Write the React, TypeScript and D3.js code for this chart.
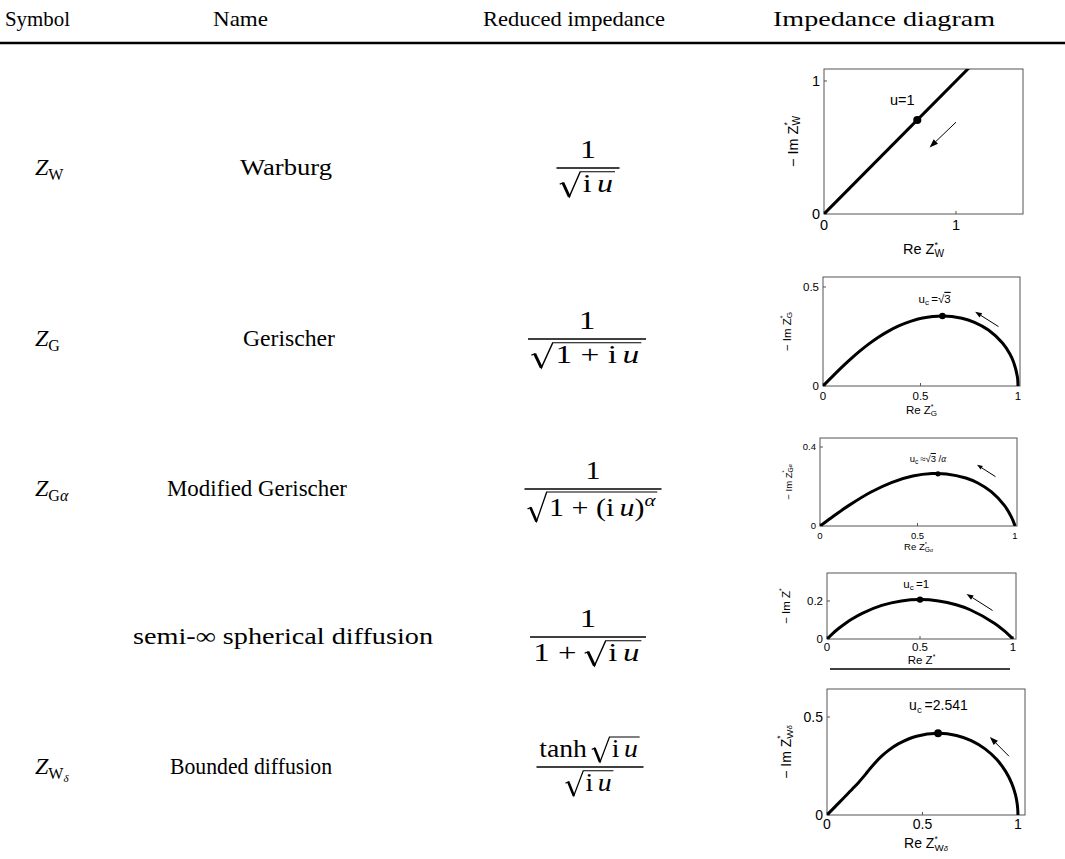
import React, { useEffect, useRef } from "react";
import * as d3 from "d3";

type Pt = [number, number];

// table text
const headers = ["Symbol", "Name", "Reduced impedance", "Impedance diagram"];
const names = ["Warburg", "Gerischer", "Modified Gerischer", "semi-\u221E spherical diffusion", "Bounded diffusion"];
const symbolSubs = ["W", "G", "G", "", "W"];
const symbolGreek = ["", "", "\u03B1", "", "\u03B4"];

// impedance curves: [Re Z*, -Im Z*]
const warburgCurve: Pt[] = [[0, 0], [1.1, 1.1]];
const gerischerCurve: Pt[] = [
  [1, 0], [0.9991, 0.025], [0.9963, 0.0497], [0.9776, 0.1204], [0.9578, 0.1628], [0.9205, 0.2172],
  [0.8485, 0.2828], [0.7769, 0.3218], [0.7124, 0.3424], [0.6124, 0.3536], [0.5046, 0.3417],
  [0.4562, 0.3287], [0.3882, 0.3031], [0.3247, 0.271], [0.2841, 0.2464], [0.2338, 0.2117],
  [0.1884, 0.1762], [0.1441, 0.1385], [0.1132, 0.1104], [0.0578, 0.0576], [0, 0],
];
const modGerischerCurve: Pt[] = [
  [1, 0], [0.9968, 0.0094], [0.9915, 0.0232], [0.9818, 0.0452], [0.9465, 0.1033], [0.8779, 0.1737],
  [0.8094, 0.2176], [0.7477, 0.2429], [0.648, 0.2636], [0.5744, 0.2655], [0.4759, 0.2529],
  [0.3694, 0.2212], [0.2596, 0.1709], [0.1486, 0.1044], [0.081, 0.0583], [0.0468, 0.0338], [0, 0],
];
const sphericalCurve: Pt[] = [
  [1, 0], [0.9502, 0.0452], [0.9016, 0.082], [0.7692, 0.1538], [0.6941, 0.1799], [0.6, 0.2],
  [0.5, 0.2071], [0.4, 0.2], [0.2941, 0.1765], [0.1892, 0.1351], [0.1385, 0.1077],
  [0.0984, 0.082], [0.0621, 0.0552], [0.0333, 0.0312], [0, 0],
];
const boundedCurve: Pt[] = [
  [1, 0], [0.9991, 0.0267], [0.9957, 0.0598], [0.9866, 0.1049], [0.968, 0.1602], [0.9363, 0.2215],
  [0.8893, 0.2828], [0.8278, 0.3375], [0.7553, 0.3797], [0.6778, 0.4061], [0.5816, 0.4173],
  [0.4691, 0.402], [0.373, 0.3627], [0.3221, 0.3297], [0.2846, 0.2987], [0.2489, 0.2631],
  [0.2235, 0.2342], [0.2046, 0.2114], [0.1894, 0.1932], [0.1656, 0.1661], [0.1428, 0.1425],
  [0.0833, 0.0833], [0.025, 0.025], [0, 0],
];
const curves = [warburgCurve, gerischerCurve, modGerischerCurve, sphericalCurve, boundedCurve];

const peaks: Pt[] = [[0.707, 0.707], [0.6124, 0.3536], [0.605, 0.264], [0.5, 0.2071], [0.5816, 0.4173]];
const arrowStarts: Pt[] = [[1.0, 0.69], [0.9, 0.3], [0.9, 0.25], [0.89, 0.15], [0.953, 0.3]];
const arrowEnds: Pt[] = [[0.8, 0.5], [0.78, 0.375], [0.805, 0.31], [0.75, 0.237], [0.853, 0.398]];
const labelAt: Pt[] = [[0.5, 0.82], [0.49, 0.42], [0.46, 0.324], [0.41, 0.27], [0.43, 0.535]];
const labelSubs = ["", "c", "c", "c", "c"];
const labelRel = ["=", "\u2009=", "\u2009\u2248", "\u2009=", "\u2009="];
const labelVals = ["1", "\u221A3", "\u221A3 /\u03B1", "1", "2.541"];

const xTickSets = [[0, 1], [0, 0.5, 1], [0, 0.5, 1], [0, 0.5, 1], [0, 0.5, 1]];
const yTickSets = [[0, 1], [0, 0.5], [0, 0.4], [0, 0.2], [0, 0.5]];
const xMax = [1.508, 1.0103, 1.0103, 1.016, 1.037];
const yMax = [1.09, 0.5505, 0.4456, 0.347, 0.643];

// layout of the little diagrams
const boxes = [
  { l: 824, r: 1023, t: 69, b: 214, fs: 14.5, tk: 16, xl: 40, yl: 793 },
  { l: 823, r: 1020, t: 277, b: 386, fs: 11.5, tk: 14, xl: 28, yl: 787 },
  { l: 820, r: 1017, t: 438, b: 526, fs: 9.5, tk: 13, xl: 24, yl: 788 },
  { l: 827, r: 1016, t: 573, b: 639, fs: 11.5, tk: 12, xl: 25, yl: 786 },
  { l: 827, r: 1025, t: 689, b: 815, fs: 14, tk: 14, xl: 33, yl: 786 },
];

const rowBar = [168, 339, 489, 637, 767];
const fracCx = [588, 587, 593, 588, 590];
const fracW = [63, 118, 137, 116, 107];
const nameX = [240, 243, 167, 133, 170];
const nameW = [92, 92, 180, 300, 162];
const headerX = [5, 213, 483, 773];
const headerW = [65, 55, 182, 222];

const sans = "'Liberation Sans', Arial, sans-serif";
const serif = "'Liberation Serif', 'Times New Roman', serif";

type MNode =
  | { k: "t"; s: string; it?: boolean; sup?: boolean }
  | { k: "sp"; w: number }
  | { k: "sqrt"; body: MNode[]; hi?: boolean };

const T = (s: string, it = false): MNode => ({ k: "t", s, it });
const SP = (w: number): MNode => ({ k: "sp", w });
const SQ = (body: MNode[], hi = false): MNode => ({ k: "sqrt", body, hi });
const iu = (): MNode[] => [T("i"), SP(0.17), T("u", true)];

const numerators: MNode[][] = [
  [T("1")], [T("1")], [T("1")], [T("1")],
  [T("tanh"), SP(0.17), SQ(iu())],
];
const denominators: MNode[][] = [
  [SQ(iu())],
  [SQ([T("1"), SP(0.25), T("+"), SP(0.25), ...iu()])],
  [SQ([T("1"), SP(0.25), T("+"), SP(0.25), T("("), ...iu(), T(")"), { k: "t", s: "\u03B1", it: true, sup: true }], true)],
  [T("1"), SP(0.25), T("+"), SP(0.25), SQ(iu())],
  [SQ(iu())],
];

function drawSeq(g: any, nodes: MNode[], x: number, base: number, fs: number): number {
  let cx = x;
  for (const n of nodes) {
    if (n.k === "sp") cx += n.w * fs;
    else if (n.k === "t") {
      const size = n.sup ? fs * 0.7 : fs;
      const t = g
        .append("text")
        .attr("x", cx)
        .attr("y", n.sup ? base - fs * 0.42 : base)
        .attr("font-size", size)
        .attr("font-style", n.it ? "italic" : "normal")
        .text(n.s);
      cx += (t.node() as SVGTextElement).getComputedTextLength();
    } else {
      const top = base - fs * (n.hi ? 0.98 : 0.8);
      const bodyX = cx + fs * 0.72;
      const w = drawSeq(g, n.body, bodyX, base, fs);
      const endX = bodyX + w + fs * 0.06;
      g.append("path")
        .attr("d", `M${cx},${base - fs * 0.3}L${cx + fs * 0.1},${base - fs * 0.36}L${cx + fs * 0.3},${base + fs * 0.2}L${cx + fs * 0.64},${top}L${endX},${top}`)
        .attr("fill", "none")
        .attr("stroke", "#000")
        .attr("stroke-width", fs * 0.045);
      g.append("path")
        .attr("d", `M${cx + fs * 0.1},${base - fs * 0.36}L${cx + fs * 0.3},${base + fs * 0.2}`)
        .attr("stroke", "#000")
        .attr("stroke-width", fs * 0.09);
      cx = endX + fs * 0.04;
    }
  }
  return cx - x;
}

function Chart({ i }: { i: number }) {
  const bx = boxes[i];
  const fs = bx.fs;
  const x = d3.scaleLinear().domain([0, xMax[i]]).range([bx.l, bx.r]);
  const y = d3.scaleLinear().domain([0, yMax[i]]).range([bx.b, bx.t]);
  const line = d3
    .line<Pt>()
    .x((d) => x(d[0]))
    .y((d) => y(d[1]))
    .curve(i === 0 ? d3.curveLinear : d3.curveCatmullRom);

  // arrow
  const [x1, y1] = [x(arrowStarts[i][0]), y(arrowStarts[i][1])];
  const [x2, y2] = [x(arrowEnds[i][0]), y(arrowEnds[i][1])];
  const ang = Math.atan2(y2 - y1, x2 - x1);
  const L = fs * 0.6;
  const hw = L * 0.36;
  const bxp = x2 - L * Math.cos(ang);
  const byp = y2 - L * Math.sin(ang);
  const head = `M${x2},${y2}L${bxp + hw * Math.sin(ang)},${byp - hw * Math.cos(ang)}L${bxp - hw * Math.sin(ang)},${byp + hw * Math.cos(ang)}Z`;

  const sub = symbolSubs[i];
  const greek = symbolGreek[i];
  const starW = fs * 0.6 * 0.389;
  const axisName = (prefix: string) => (
    <>
      {prefix}Z
      <tspan fontSize={fs * 0.6} dy={-fs * 0.42}>*</tspan>
      {sub ? (
        <tspan fontSize={fs * 0.7} dx={-starW} dy={fs * 0.62}>
          {sub}
          {greek ? <tspan fontStyle="italic" fontSize={fs * 0.55}>{greek}</tspan> : null}
        </tspan>
      ) : null}
    </>
  );

  const lv = labelVals[i];
  return (
    <g fontFamily={sans}>
      <clipPath id={`clip${i}`}>
        <rect x={bx.l} y={bx.t} width={bx.r - bx.l} height={bx.b - bx.t} />
      </clipPath>
      <rect x={bx.l} y={bx.t} width={bx.r - bx.l} height={bx.b - bx.t} fill="none" stroke="#555" strokeWidth={1} />
      {xTickSets[i].map((v) => (
        <g key={"x" + v}>
          <line x1={x(v)} x2={x(v)} y1={bx.b} y2={bx.b - 3} stroke="#555" />
          <text x={x(v)} y={bx.b + bx.tk} fontSize={fs} textAnchor="middle">{String(v)}</text>
        </g>
      ))}
      {yTickSets[i].map((v) => (
        <g key={"y" + v}>
          <line x1={bx.l} x2={bx.l + 3} y1={y(v)} y2={y(v)} stroke="#555" />
          <text x={bx.l - 4} y={y(v) + fs * 0.36} fontSize={fs} textAnchor="end">{String(v)}</text>
        </g>
      ))}
      <path d={line(curves[i]) || ""} fill="none" stroke="#000" strokeWidth={3} clipPath={`url(#clip${i})`} />
      <circle cx={x(peaks[i][0])} cy={y(peaks[i][1])} r={fs * 0.28} fill="#000" />
      <line x1={x1} y1={y1} x2={bxp} y2={byp} stroke="#000" strokeWidth={1} />
      <path d={head} fill="#000" />
      <text x={x(labelAt[i][0])} y={y(labelAt[i][1])} fontSize={fs}>
        u
        {labelSubs[i] ? <tspan fontSize={fs * 0.7} dy={fs * 0.2}>{labelSubs[i]}</tspan> : null}
        <tspan dy={labelSubs[i] ? -fs * 0.2 : 0}>{labelRel[i]}</tspan>
        {lv.startsWith("\u221A") ? (
          <>
            <tspan>{"\u221A"}</tspan>
            <tspan style={{ textDecoration: "overline" }}>3</tspan>
            {lv.length > 2 ? (
              <>
                <tspan> /</tspan>
                <tspan fontFamily={serif} fontStyle="italic">{"\u03B1"}</tspan>
              </>
            ) : null}
          </>
        ) : (
          <tspan>{lv}</tspan>
        )}
      </text>
      <text x={(bx.l + bx.r) / 2} y={bx.b + bx.xl} fontSize={fs} textAnchor="middle">
        {axisName("Re ")}
      </text>
      <text transform={`translate(${bx.yl},${(bx.t + bx.b) / 2}) rotate(-90)`} fontSize={fs} textAnchor="middle" dominantBaseline="central">
        {axisName("\u2212 Im ")}
      </text>
    </g>
  );
}

export default function App() {
  const mathRef = useRef<SVGGElement>(null);

  useEffect(() => {
    const g = d3.select(mathRef.current);
    g.selectAll("*").remove();
    const fs = 25;
    numerators.forEach((num, i) => {
      const bar = rowBar[i];
      const cx = fracCx[i];
      const gn = g.append("g");
      const wn = drawSeq(gn, num, 0, bar - fs * 0.4, fs);
      const gd = g.append("g");
      const wd = drawSeq(gd, denominators[i], 0, bar + fs * (i === 2 ? 1.1 : 0.95), fs);
      const W = Math.max(wn, wd) + fs * 0.2;
      const s = fracW[i] / W;
      gn.attr("transform", `translate(${cx},0) scale(${s},1) translate(${-wn / 2},0)`);
      gd.attr("transform", `translate(${cx},0) scale(${s},1) translate(${-wd / 2},0)`);
      g.append("line")
        .attr("x1", cx - fracW[i] / 2)
        .attr("x2", cx + fracW[i] / 2)
        .attr("y1", bar)
        .attr("y2", bar)
        .attr("stroke", "#000")
        .attr("stroke-width", 1.7);
    });
  }, []);

  return (
    <svg width={1065} height={859} style={{ position: "absolute", left: 0, top: 0, background: "#fff" }}>
      <g fontFamily={serif}>
        {headers.map((h, i) => (
          <text key={h} x={headerX[i]} y={26} fontSize={22} textLength={headerW[i]} lengthAdjust="spacingAndGlyphs">{h}</text>
        ))}
        <line x1={0} x2={1065} y1={43} y2={43} stroke="#000" strokeWidth={2.5} />
        {names.map((n, i) => (
          <text key={n} x={nameX[i]} y={rowBar[i] + 7} fontSize={23} textLength={nameW[i]} lengthAdjust="spacingAndGlyphs">{n}</text>
        ))}
        {symbolSubs.map((s, i) =>
          s ? (
            <text key={"s" + i} x={35} y={rowBar[i] + 7} fontSize={24}>
              <tspan fontStyle="italic">Z</tspan>
              <tspan fontSize={16} dy={5}>{s}</tspan>
              {symbolGreek[i] === "\u03B1" ? <tspan fontSize={16} fontStyle="italic">{"\u03B1"}</tspan> : null}
              {symbolGreek[i] === "\u03B4" ? <tspan fontSize={11} dy={3} fontStyle="italic">{"\u03B4"}</tspan> : null}
            </text>
          ) : null
        )}
      </g>
      <g ref={mathRef} fontFamily={serif} />
      {boxes.map((_, i) => (
        <Chart key={i} i={i} />
      ))}
      <line x1={830} x2={1010} y1={669} y2={669} stroke="#000" strokeWidth={1.3} />
    </svg>
  );
}
